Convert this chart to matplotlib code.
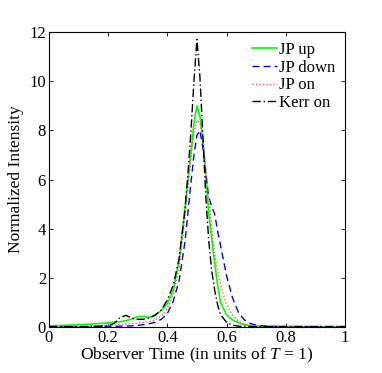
import numpy as np
import matplotlib
matplotlib.use("Agg")
import matplotlib.pyplot as plt
from matplotlib.ticker import FuncFormatter

plt.rcParams['font.family'] = 'Liberation Serif'
plt.rcParams['mathtext.fontset'] = 'custom'
plt.rcParams['mathtext.rm'] = 'Liberation Serif'
plt.rcParams['mathtext.it'] = 'Liberation Serif:italic'

# observer time grid (units of T)
t = [0.0, 0.05, 0.10, 0.15, 0.20, 0.22, 0.24, 0.26, 0.28, 0.30,
     0.32, 0.34, 0.36, 0.38, 0.40, 0.42, 0.44, 0.46, 0.47, 0.48,
     0.49, 0.50, 0.51, 0.52, 0.53, 0.54, 0.55, 0.56, 0.57, 0.58,
     0.60, 0.62, 0.64, 0.66, 0.68, 0.70, 0.75, 0.80, 0.90, 1.00]

jp_up = [0.05, 0.07, 0.10, 0.13, 0.17, 0.20, 0.22, 0.26, 0.33, 0.43,
         0.43, 0.39, 0.48, 0.68, 0.95, 1.50, 2.70, 4.90, 6.00, 7.10,
         8.30, 9.00, 8.60, 7.60, 6.20, 4.60, 3.60, 2.60, 1.70, 1.00,
         0.50, 0.30, 0.18, 0.10, 0.06, 0.04, 0.03, 0.03, 0.02, 0.02]

jp_down = [0.02, 0.02, 0.02, 0.02, 0.03, 0.03, 0.04, 0.04, 0.05, 0.07,
           0.10, 0.14, 0.20, 0.32, 0.55, 1.05, 1.90, 3.50, 4.70, 5.90,
           7.00, 7.80, 8.00, 7.30, 6.20, 5.30, 4.90, 4.60, 3.90, 3.30,
           2.10, 1.20, 0.60, 0.30, 0.15, 0.08, 0.03, 0.02, 0.02, 0.02]

jp_on = [0.03, 0.03, 0.04, 0.05, 0.07, 0.08, 0.10, 0.12, 0.14, 0.17,
         0.19, 0.22, 0.30, 0.45, 0.75, 1.30, 2.40, 4.50, 5.70, 6.90,
         7.90, 8.40, 8.30, 7.60, 6.60, 5.30, 4.00, 3.00, 2.30, 1.70,
         0.90, 0.50, 0.25, 0.12, 0.07, 0.05, 0.03, 0.02, 0.02, 0.02]

kerr_on = [0.02, 0.02, 0.02, 0.03, 0.05, 0.15, 0.38, 0.48, 0.36, 0.32,
           0.32, 0.38, 0.50, 0.70, 1.10, 1.70, 2.80, 4.80, 6.30, 8.00,
           10.00, 11.70, 10.20, 7.80, 5.30, 3.50, 2.30, 1.50, 0.90, 0.50,
           0.20, 0.08, 0.04, 0.03, 0.02, 0.02, 0.02, 0.02, 0.02, 0.02]

fig = plt.figure(figsize=(3.82, 3.73), dpi=100)
ax = fig.add_axes([0.128, 0.123, 0.775, 0.791])

ax.plot(t, jp_up, color=(0, 1, 0), lw=1.2, ls='-', label='JP up')
ax.plot(t, jp_down, color=(0, 0, 1), lw=1.0, ls=(0, (5, 3)), label='JP down')
ax.plot(t, jp_on, color=(1, 0.35, 0.35), lw=1.0, ls=(0, (1, 1.5)), label='JP on')
ax.plot(t, kerr_on, color='black', lw=1.0, ls=(0, (6, 2, 1, 2)), label='Kerr on')

ax.set_xlim(0, 1)
ax.set_ylim(0, 12)
ax.set_xticks([0, 0.2, 0.4, 0.6, 0.8, 1.0])
ax.set_yticks([0, 2, 4, 6, 8, 10, 12])
ax.xaxis.set_major_formatter(FuncFormatter(lambda v, p: '%g' % v))
ax.tick_params(direction='in', top=True, right=True, length=3,
               labelsize=12, width=0.6, pad=2)
for s in ax.spines.values():
    s.set_linewidth(0.8)

ax.set_xlabel('Observer Time (in units of $T$ = 1)', fontsize=12.5, labelpad=0)
ax.set_ylabel('Normalized Intensity', fontsize=12.5, labelpad=4)

ax.legend(loc='upper right', frameon=False, fontsize=12, handlelength=1.5,
          handletextpad=0.1, labelspacing=0.1, borderaxespad=0.2)

fig.savefig('out.png', dpi=100)
